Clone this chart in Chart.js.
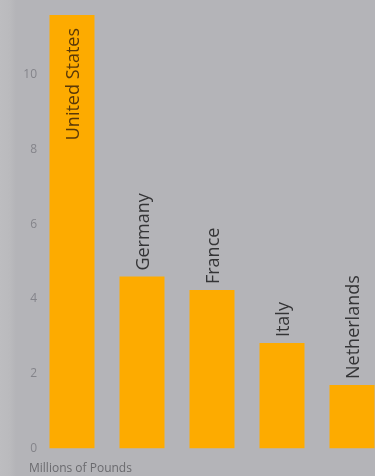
<!DOCTYPE html>
<html>
<head>
<meta charset="utf-8">
<script src="https://cdn.jsdelivr.net/npm/chart.js@4/dist/chart.umd.min.js"></script>
<style>
  html, body { margin: 0; padding: 0; width: 375px; height: 476px; overflow: hidden;
    background: linear-gradient(to right, #bdbdc0 0px, #bababd 10px, #b4b4b8 16px, #b4b4b8 100%); }
  #wrap { position: absolute; left: 0; top: 0; width: 390px; height: 476px; }
</style>
</head>
<body>
<div id="wrap"><canvas id="c" width="390" height="476"></canvas></div>
<script>
const categories = ["United States", "Germany", "France", "Italy", "Netherlands"];
const values = [11.6, 4.6, 4.24, 2.82, 1.7];
const yTicks = [0, 2, 4, 6, 8, 10];
const axisNote = "Millions of Pounds";

const barLabels = {
  id: 'barLabels',
  afterDatasetsDraw(chart) {
    const ctx = chart.ctx;
    const meta = chart.getDatasetMeta(0);
    ctx.save();
    ctx.font = '18px "Open Sans", sans-serif';
    ctx.textBaseline = 'alphabetic';
    meta.data.forEach((bar, i) => {
      const label = categories[i];
      ctx.save();
      ctx.translate(bar.x + 6.5, 0);
      if (i === 0) {
        ctx.translate(0, bar.y + 13);
        ctx.rotate(-Math.PI / 2);
        ctx.textAlign = 'right';
        ctx.fillStyle = '#5a3808';
      } else {
        ctx.translate(0, bar.y - 6);
        ctx.rotate(-Math.PI / 2);
        ctx.textAlign = 'left';
        ctx.fillStyle = '#343436';
      }
      ctx.fillText(label, 0, 0);
      ctx.restore();
    });
    ctx.font = '12px "Open Sans", sans-serif';
    ctx.fillStyle = '#6a6a6e';
    ctx.textAlign = 'left';
    ctx.fillText(axisNote, 29, 472);
    ctx.restore();
  }
};

new Chart(document.getElementById('c'), {
  type: 'bar',
  data: {
    labels: categories,
    datasets: [{
      data: values,
      backgroundColor: '#fdab00',
      borderWidth: 0,
      barPercentage: 0.643,
      categoryPercentage: 1.0
    }]
  },
  options: {
    responsive: false,
    animation: false,
    layout: { padding: { left: 0, right: 3, top: 0, bottom: 27.5 } },
    plugins: { legend: { display: false }, tooltip: { enabled: false } },
    scales: {
      x: { display: false },
      y: {
        min: 0, max: 12,
        grid: { display: false, drawTicks: false, tickLength: 0 },
        border: { display: false },
        ticks: {
          stepSize: 2, padding: 0,
          color: '#84848a',
          font: { family: '"Open Sans", sans-serif', size: 12 }
        },
        afterBuildTicks(scale) {
          scale.ticks = yTicks.map(v => ({ value: v }));
        },
        afterFit(scale) {
          scale.width = 37;
          scale.paddingTop = 0;
          scale.paddingBottom = 0;
        }
      }
    }
  },
  plugins: [barLabels]
});
</script>
</body>
</html>
